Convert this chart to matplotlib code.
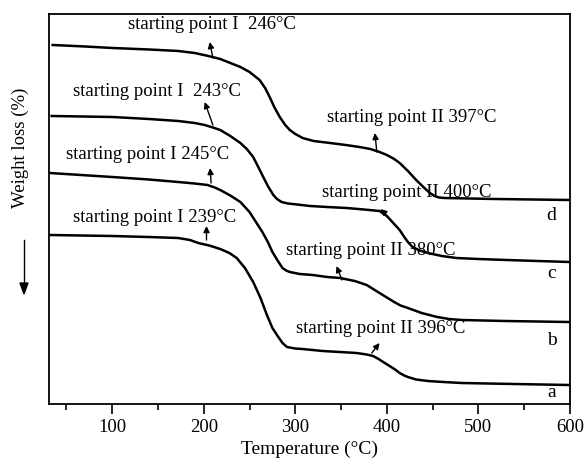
import numpy as np
import matplotlib.pyplot as plt

plt.rcParams['font.family'] = ['Liberation Serif', 'DejaVu Serif']

# TG curves (temperature in C, weight in arbitrary offset units)
T_a = [32, 100, 140, 172, 185, 194, 206, 218, 228, 236, 245, 254, 262, 269, 275, 280, 286, 291, 300, 308,
       330, 349, 367, 378, 385, 391, 396, 403, 409, 414, 419, 423, 432, 445, 462, 482, 540, 600]
w_a = [169, 168, 167, 166, 164, 161, 158.5, 155, 151, 146, 136, 122, 106, 89, 76, 69, 61, 57, 55.5, 55,
       53, 52, 51, 49.5, 48, 45, 42, 38, 34.5, 31, 28.5, 27, 24.5, 23, 22, 21, 20, 19]

T_b = [32, 100, 140, 172, 190, 204, 212, 218, 229, 240, 250, 257, 264, 270, 275, 281, 286, 290, 294, 305,
       319, 335, 349, 365, 378, 385, 392, 400, 408, 415, 423, 438, 455, 468, 482, 530, 600]
w_b = [231, 227, 224.5, 222, 220.5, 219, 216.5, 214, 208.5, 202, 192, 182, 172, 162, 152, 143, 136, 133.5, 132, 130,
       129, 127, 126, 123, 119, 115, 111, 106.5, 102, 98.5, 96, 91, 87, 85, 84, 83, 82]

T_c = [34, 100, 140, 172, 190, 201, 210, 218, 229, 240, 247, 254, 259, 265, 270, 276, 280, 285, 292, 302,
       316, 335, 356, 375, 392, 400, 406, 414, 419, 423, 428, 436, 445, 460, 476, 500, 531, 565, 600]
w_c = [288, 287, 285, 283, 281, 279, 276.5, 274, 268, 261, 255, 247, 238, 227, 218, 209, 205, 202, 200.5, 199.5,
       198, 197, 196, 194.5, 193, 188, 182, 174, 167, 162, 157, 153.5, 151, 148, 146, 145, 144, 143, 142]

T_d = [35, 70, 100, 140, 172, 190, 205, 218, 229, 240, 250, 261, 267, 272, 277, 283, 289, 294, 300, 308,
       320, 338, 355, 370, 382, 392, 400, 408, 414, 423, 432, 441, 447, 452, 457, 463, 490, 518, 560, 600]
w_d = [359, 357.5, 356, 354.5, 353, 351, 348, 345, 341, 337, 332, 324, 316, 307, 297, 287, 279, 274, 270, 266,
       263, 261, 259, 257, 255, 252, 249, 245, 241, 233, 224, 216, 211, 208, 206.5, 206, 205.5, 205, 204.5, 204]

curves = [(T_a, w_a, 'a'), (T_b, w_b, 'b'), (T_c, w_c, 'c'), (T_d, w_d, 'd')]
letter_y = [12, 64, 131, 189]

# annotation texts, text position, arrow tail (on curve) and head
notes = [
    ('starting point I  246\u00b0C', (209, 379), (210, 346), (206.5, 362)),
    ('starting point I  243\u00b0C', (149, 312), (210, 279), (201, 302)),
    ('starting point I 245\u00b0C', (139, 249), (208, 221), (207, 236)),
    ('starting point I 239\u00b0C', (146, 187), (203, 164), (203, 178)),
    ('starting point II 397\u00b0C', (427, 286), (389, 252), (387, 271)),
    ('starting point II 400\u00b0C', (422, 211), (399, 190), (393, 195)),
    ('starting point II 380\u00b0C', (382, 154), (351, 124), (345, 138)),
    ('starting point II 396\u00b0C', (393, 76), (383.5, 51), (392, 61)),
]

fig = plt.figure(figsize=(5.87, 4.66), dpi=100)
ax = fig.add_axes([0.0835, 0.133, 0.8875, 0.837])

for T, w, name in curves:
    ax.plot(T, w, color='black', lw=1.8, solid_joinstyle='round')

for (T, w, name), ly in zip(curves, letter_y):
    ax.text(580, ly, name, fontsize=14, ha='center', va='center')

for txt, tpos, tail, head in notes:
    ax.text(tpos[0], tpos[1], txt, fontsize=13.5, ha='center', va='center')
    ax.annotate('', xy=head, xytext=tail,
                arrowprops=dict(arrowstyle='-|>', color='black', lw=1.0,
                                mutation_scale=9, shrinkA=0, shrinkB=0))

ax.set_xlim(31, 600)
ax.set_ylim(0, 390)
ax.set_xticks([100, 200, 300, 400, 500, 600])
ax.set_xticks([50, 150, 250, 350, 450, 550], minor=True)
ax.set_yticks([])
ax.tick_params(axis='x', direction='out', length=7, width=1.2, labelsize=13.5, pad=4)
ax.tick_params(axis='x', which='minor', direction='out', length=4, width=1.2)
for s in ax.spines.values():
    s.set_linewidth(1.3)
ax.set_xlabel('Temperature (\u00b0C)', fontsize=14, labelpad=3)

fig.text(20 / 587, 1 - 148 / 466, 'Weight loss (%)', rotation=90, fontsize=13.5,
         ha='center', va='center')
fig.add_artist(plt.Line2D([24 / 587, 24 / 587], [1 - 240 / 466, 1 - 285 / 466],
                          color='black', lw=1.0))
fig.patches.append(plt.Polygon([[20 / 587, 1 - 283 / 466], [28 / 587, 1 - 283 / 466],
                                [24 / 587, 1 - 294 / 466]], closed=True,
                               color='black', transform=fig.transFigure, figure=fig))

fig.savefig('out.png', dpi=100)
